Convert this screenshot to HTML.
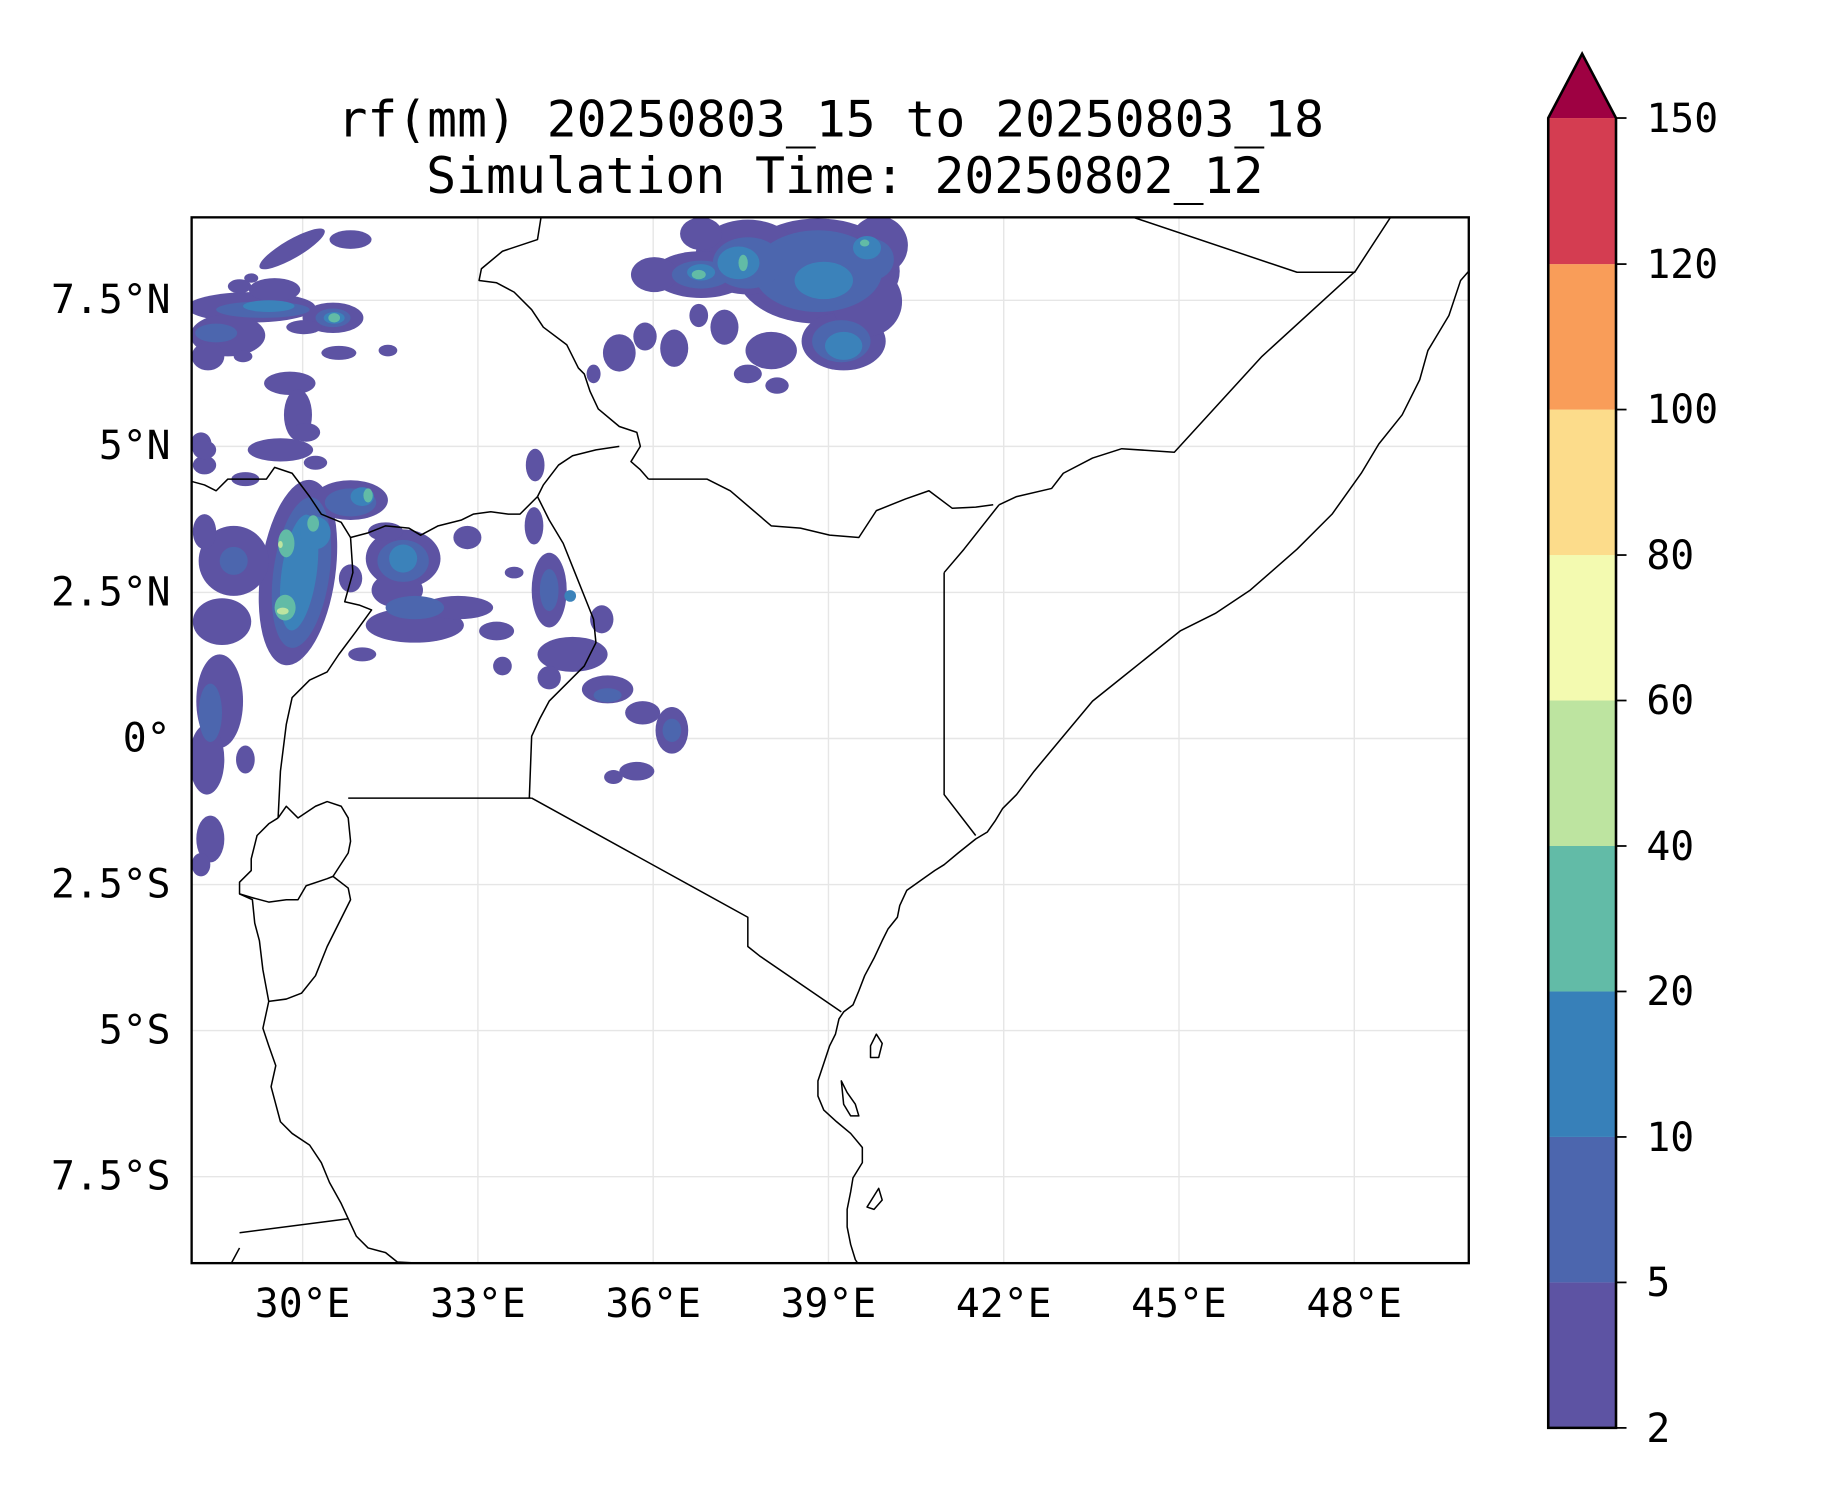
<!DOCTYPE html>
<html><head><meta charset="utf-8"><style>
html,body{margin:0;padding:0;background:#fff;}
svg{display:block;}
text{font-family:"DejaVu Sans Mono","Liberation Mono",monospace;fill:#000;}
</style></head><body>
<svg width="1833" height="1500" viewBox="0 0 1568.7 1283.7" xmlns="http://www.w3.org/2000/svg">
<defs><clipPath id="ax"><rect x="164" y="186" width="1093" height="895"/></clipPath></defs>
<rect x="0" y="0" width="1568.7" height="1283.7" fill="#fff"/>
<text x="711" y="117" font-size="42.5" text-anchor="middle">rf(mm) 20250803_15 to 20250803_18</text>
<text x="723" y="165" font-size="42.5" text-anchor="middle">Simulation Time: 20250802_12</text>
<g clip-path="url(#ax)">
<!-- gridlines -->
<g stroke="#e6e6e6" stroke-width="1.2">
<line x1="259" y1="186" x2="259" y2="1081"/><line x1="409" y1="186" x2="409" y2="1081"/><line x1="559" y1="186" x2="559" y2="1081"/><line x1="709" y1="186" x2="709" y2="1081"/><line x1="859" y1="186" x2="859" y2="1081"/><line x1="1009" y1="186" x2="1009" y2="1081"/><line x1="1159" y1="186" x2="1159" y2="1081"/>
<line x1="164" y1="257" x2="1257" y2="257"/><line x1="164" y1="382" x2="1257" y2="382"/><line x1="164" y1="507" x2="1257" y2="507"/><line x1="164" y1="632" x2="1257" y2="632"/><line x1="164" y1="757" x2="1257" y2="757"/><line x1="164" y1="882" x2="1257" y2="882"/><line x1="164" y1="1007" x2="1257" y2="1007"/>
</g>
<!-- rainfall level 1 -->
<g fill="#5d53a3">
<ellipse cx="215" cy="263" rx="55" ry="13"/><ellipse cx="285" cy="272" rx="26" ry="13"/><ellipse cx="195" cy="287" rx="32" ry="18"/><ellipse cx="178" cy="305" rx="14" ry="12"/>
<ellipse cx="250" cy="213" rx="32" ry="8" transform="rotate(-30 250 213)"/><ellipse cx="300" cy="205" rx="18" ry="8"/><ellipse cx="235" cy="248" rx="22" ry="10"/><ellipse cx="205" cy="245" rx="10" ry="6"/>
<ellipse cx="248" cy="328" rx="22" ry="10"/><ellipse cx="255" cy="355" rx="12" ry="22"/><ellipse cx="240" cy="385" rx="28" ry="10"/><ellipse cx="262" cy="370" rx="12" ry="8"/>
<ellipse cx="172" cy="380" rx="9" ry="10"/><ellipse cx="175" cy="398" rx="10" ry="8"/><ellipse cx="290" cy="302" rx="15" ry="6"/><ellipse cx="332" cy="300" rx="8" ry="5"/><ellipse cx="215" cy="238" rx="6" ry="4"/><ellipse cx="260" cy="280" rx="15" ry="6"/>
<ellipse cx="208" cy="305" rx="8" ry="5"/><ellipse cx="270" cy="396" rx="10" ry="6"/>
<!-- NE Ethiopia -->
<ellipse cx="700" cy="232" rx="70" ry="45"/><ellipse cx="640" cy="220" rx="45" ry="32"/><ellipse cx="722" cy="292" rx="36" ry="25"/><ellipse cx="600" cy="235" rx="42" ry="20"/><ellipse cx="560" cy="235" rx="20" ry="15"/><ellipse cx="742" cy="258" rx="30" ry="30"/><ellipse cx="752" cy="210" rx="25" ry="25"/>
<ellipse cx="530" cy="302" rx="14" ry="16"/><ellipse cx="577" cy="298" rx="12" ry="16"/><ellipse cx="660" cy="300" rx="22" ry="16"/><ellipse cx="620" cy="280" rx="12" ry="15"/><ellipse cx="552" cy="288" rx="10" ry="12"/><ellipse cx="600" cy="200" rx="18" ry="14"/><ellipse cx="640" cy="320" rx="12" ry="8"/><ellipse cx="665" cy="330" rx="10" ry="7"/><ellipse cx="508" cy="320" rx="6" ry="8"/><ellipse cx="598" cy="270" rx="8" ry="10"/>
<!-- South Sudan / Uganda west -->
<ellipse cx="255" cy="490" rx="32" ry="80" transform="rotate(8 255 490)"/><ellipse cx="300" cy="428" rx="32" ry="17"/><ellipse cx="200" cy="480" rx="30" ry="30"/><ellipse cx="190" cy="532" rx="25" ry="20"/><ellipse cx="188" cy="600" rx="20" ry="40"/><ellipse cx="177" cy="650" rx="15" ry="30"/><ellipse cx="180" cy="718" rx="12" ry="20"/><ellipse cx="172" cy="740" rx="8" ry="10"/><ellipse cx="210" cy="650" rx="8" ry="12"/>
<ellipse cx="175" cy="455" rx="10" ry="15"/><ellipse cx="175" cy="385" rx="10" ry="8"/><ellipse cx="210" cy="410" rx="12" ry="6"/><ellipse cx="300" cy="495" rx="10" ry="12"/>
<!-- Uganda central -->
<ellipse cx="345" cy="478" rx="32" ry="25"/><ellipse cx="355" cy="535" rx="42" ry="15"/><ellipse cx="392" cy="520" rx="30" ry="10"/><ellipse cx="425" cy="540" rx="15" ry="8"/><ellipse cx="340" cy="505" rx="22" ry="15"/><ellipse cx="330" cy="455" rx="15" ry="8"/><ellipse cx="400" cy="460" rx="12" ry="10"/><ellipse cx="310" cy="560" rx="12" ry="6"/><ellipse cx="440" cy="490" rx="8" ry="5"/>
<!-- Kenya west -->
<ellipse cx="470" cy="505" rx="15" ry="32"/><ellipse cx="490" cy="560" rx="30" ry="15"/><ellipse cx="520" cy="590" rx="22" ry="12"/><ellipse cx="550" cy="610" rx="15" ry="10"/><ellipse cx="575" cy="625" rx="14" ry="20"/><ellipse cx="545" cy="660" rx="15" ry="8"/><ellipse cx="525" cy="665" rx="8" ry="6"/><ellipse cx="457" cy="450" rx="8" ry="16"/><ellipse cx="458" cy="398" rx="8" ry="14"/><ellipse cx="515" cy="530" rx="10" ry="12"/><ellipse cx="430" cy="570" rx="8" ry="8"/><ellipse cx="470" cy="580" rx="10" ry="10"/>
</g>
<g fill="#4c66ae">
<ellipse cx="225" cy="265" rx="40" ry="7"/><ellipse cx="285" cy="272" rx="15" ry="8"/><ellipse cx="185" cy="285" rx="18" ry="8"/>
<ellipse cx="700" cy="232" rx="55" ry="35"/><ellipse cx="640" cy="225" rx="30" ry="22"/><ellipse cx="720" cy="292" rx="25" ry="18"/><ellipse cx="745" cy="222" rx="20" ry="18"/><ellipse cx="600" cy="235" rx="25" ry="12"/>
<ellipse cx="258" cy="490" rx="24" ry="65" transform="rotate(8 258 490)"/><ellipse cx="300" cy="430" rx="22" ry="12"/><ellipse cx="345" cy="480" rx="22" ry="18"/><ellipse cx="355" cy="520" rx="25" ry="10"/><ellipse cx="180" cy="610" rx="10" ry="25"/><ellipse cx="200" cy="480" rx="12" ry="12"/><ellipse cx="470" cy="505" rx="8" ry="18"/><ellipse cx="520" cy="595" rx="12" ry="6"/><ellipse cx="575" cy="625" rx="8" ry="10"/>
</g>
<g fill="#3b82ba">
<ellipse cx="230" cy="262" rx="22" ry="5"/><ellipse cx="286" cy="272" rx="9" ry="5"/>
<ellipse cx="632" cy="225" rx="18" ry="14"/><ellipse cx="705" cy="240" rx="25" ry="16"/><ellipse cx="722" cy="296" rx="16" ry="12"/><ellipse cx="742" cy="212" rx="12" ry="10"/><ellipse cx="600" cy="233" rx="12" ry="7"/>
<ellipse cx="256" cy="490" rx="15" ry="50" transform="rotate(8 256 490)"/><ellipse cx="270" cy="456" rx="13" ry="14"/><ellipse cx="345" cy="478" rx="12" ry="12"/><ellipse cx="310" cy="425" rx="10" ry="8"/><ellipse cx="488" cy="510" rx="5" ry="5"/>
</g>
<g fill="#62bba6">
<ellipse cx="598" cy="235" rx="6" ry="4"/><ellipse cx="636" cy="225" rx="4" ry="7"/><ellipse cx="740" cy="208" rx="4" ry="3"/><ellipse cx="286" cy="272" rx="5" ry="4"/>
<ellipse cx="245" cy="465" rx="7" ry="12"/><ellipse cx="268" cy="448" rx="5" ry="7"/><ellipse cx="244" cy="520" rx="9" ry="11"/><ellipse cx="315" cy="424" rx="4" ry="6"/>
</g>
<g fill="#bde4a0"><ellipse cx="242" cy="523" rx="5" ry="3"/><ellipse cx="240" cy="466" rx="2" ry="3"/></g>
<!-- borders & coastlines -->
<g fill="none" stroke="#000" stroke-width="1.3" stroke-linejoin="round">
<path d="M1257,232 L1250,240 L1240,270 L1228,290 L1222,300 L1215,325 L1200,355 L1180,380 L1165,405 L1140,440 L1110,470 L1070,505 L1040,525 L1010,540 L985,560 L960,580 L935,600 L910,630 L885,660 L870,680 L858,692 L852,702 L845,712 L835,718 L820,730 L808,740 L800,745 L790,752 L776,762 L770,775 L768,785 L760,795 L755,805 L748,820 L740,835 L735,848 L730,860 L722,866 L718,872 L715,885 L710,895 L705,910 L700,925 L700,938 L705,950 L716,960 L728,970 L738,982 L738,995 L730,1008 L728,1020 L725,1035 L725,1050 L728,1065 L732,1078 L734,1081"/>
<path d="M750,885 L755,893 L752,905 L745,905 L745,895 Z"/>
<path d="M720,925 L725,935 L732,945 L735,955 L728,955 L722,945 Z"/>
<path d="M752,1017 L755,1027 L748,1035 L742,1033 Z"/>
<path d="M808,490 L808,680 L835,715"/>
<path d="M808,490 L825,470 L855,432"/>
<path d="M555,410 L605,410 L625,420 L660,450 L685,452 L710,458 L735,460 L750,437 L775,427 L795,420 L815,435 L835,434 L850,432"/>
<path d="M855,432 L870,425 L900,418 L910,405 L935,392 L960,384 L1005,387 L1080,305 L1160,232 L1190,186"/>
<path d="M970,186 L1110,233 L1160,233"/>
<path d="M463,186 L460,205 L430,215 L412,230 L410,240 L425,242 L440,250 L455,265 L465,280 L485,295 L495,315 L500,320 L505,335 L512,350 L530,365 L545,370 L548,382 L540,395 L548,402 L555,410"/>
<path d="M530,382 L510,385 L490,390 L478,398 L465,415 L460,425"/>
<path d="M460,425 L470,445 L482,465 L492,490 L502,515 L508,530 L510,550 L500,570 L485,585 L470,600 L462,615 L455,630 L453,683"/>
<path d="M460,425 L445,440 L435,440 L420,438 L405,440 L395,445 L375,450 L360,458 L350,452 L330,450 L315,456 L300,460 L292,447 L275,440 L265,425 L250,405 L235,400 L228,410 L215,410 L205,410 L195,410 L185,420 L175,415 L164,412"/>
<path d="M300,460 L302,490 L295,515 L308,518 L318,522 L305,540 L290,560 L280,575 L265,582 L250,597 L245,620 L240,660 L238,700"/>
<path d="M298,683 L455,683"/>
<path d="M455,683 L640,785 L640,810 L650,818 L720,866"/>
<path d="M238,700 L245,690 L255,700 L270,690 L280,686 L292,690 L298,700 L300,720 L298,730 L285,750 L298,760 L300,770 L290,790 L280,810 L270,835 L258,850 L245,855 L230,857"/>
<path d="M230,857 L225,830 L222,805 L218,790 L216,770 L205,765 L205,755 L215,745 L215,735 L220,715 L230,705 L238,700"/>
<path d="M205,765 L215,768 L230,772 L245,770 L255,770 L262,758 L280,752 L285,750"/>
<path d="M230,857 L225,880 L230,895 L236,912 L232,930 L236,945 L240,960 L250,970 L265,980 L275,995 L282,1012 L292,1030 L298,1043 L305,1058 L315,1068 L330,1072 L340,1080 L358,1081"/>
<path d="M205,1055 L298,1043"/>
<path d="M205,1068 L198,1081"/>
</g>
</g>
<rect x="164" y="186" width="1093" height="895" fill="none" stroke="#000" stroke-width="2"/>
<!-- ticks -->
<g stroke="#000" stroke-width="1.5">
</g>
<g font-size="34" text-anchor="end">
<text x="146" y="268">7.5°N</text><text x="146" y="393">5°N</text><text x="146" y="518">2.5°N</text><text x="146" y="643">0°</text><text x="146" y="768">2.5°S</text><text x="146" y="893">5°S</text><text x="146" y="1018">7.5°S</text>
</g>
<g font-size="34" text-anchor="middle">
<text x="259" y="1127">30°E</text><text x="409" y="1127">33°E</text><text x="559" y="1127">36°E</text><text x="709" y="1127">39°E</text><text x="859" y="1127">42°E</text><text x="1009" y="1127">45°E</text><text x="1159" y="1127">48°E</text>
</g>
<!-- colorbar -->
<g>
<rect x="1325" y="1097.5" width="58" height="124.5" fill="#5d53a3"/>
<rect x="1325" y="973" width="58" height="124.5" fill="#4c66ae"/>
<rect x="1325" y="848.5" width="58" height="124.5" fill="#3780b9"/>
<rect x="1325" y="724" width="58" height="124.5" fill="#62bba7"/>
<rect x="1325" y="599.5" width="58" height="124.5" fill="#bde4a0"/>
<rect x="1325" y="475" width="58" height="124.5" fill="#f3fab0"/>
<rect x="1325" y="350.5" width="58" height="124.5" fill="#fcdc8b"/>
<rect x="1325" y="226" width="58" height="124.5" fill="#f99d59"/>
<rect x="1325" y="101" width="58" height="125" fill="#d43d51"/>
<path d="M1325,101 L1354,46 L1383,101 Z" fill="#9e0142"/>
<path d="M1325,101 L1354,46 L1383,101 L1383,1222 L1325,1222 Z" fill="none" stroke="#000" stroke-width="2.2"/>
<g stroke="#000" stroke-width="1.5">
<line x1="1383" y1="101" x2="1392" y2="101"/><line x1="1383" y1="226" x2="1392" y2="226"/><line x1="1383" y1="350.5" x2="1392" y2="350.5"/><line x1="1383" y1="475" x2="1392" y2="475"/><line x1="1383" y1="599.5" x2="1392" y2="599.5"/><line x1="1383" y1="724" x2="1392" y2="724"/><line x1="1383" y1="848.5" x2="1392" y2="848.5"/><line x1="1383" y1="973" x2="1392" y2="973"/><line x1="1383" y1="1097.5" x2="1392" y2="1097.5"/><line x1="1383" y1="1222" x2="1392" y2="1222"/>
</g>
<g font-size="34">
<text x="1409" y="113">150</text><text x="1409" y="238">120</text><text x="1409" y="362">100</text><text x="1409" y="487">80</text><text x="1409" y="611">60</text><text x="1409" y="736">40</text><text x="1409" y="860">20</text><text x="1409" y="985">10</text><text x="1409" y="1109">5</text><text x="1409" y="1234">2</text>
</g>
</g>
</svg>
</body></html>
